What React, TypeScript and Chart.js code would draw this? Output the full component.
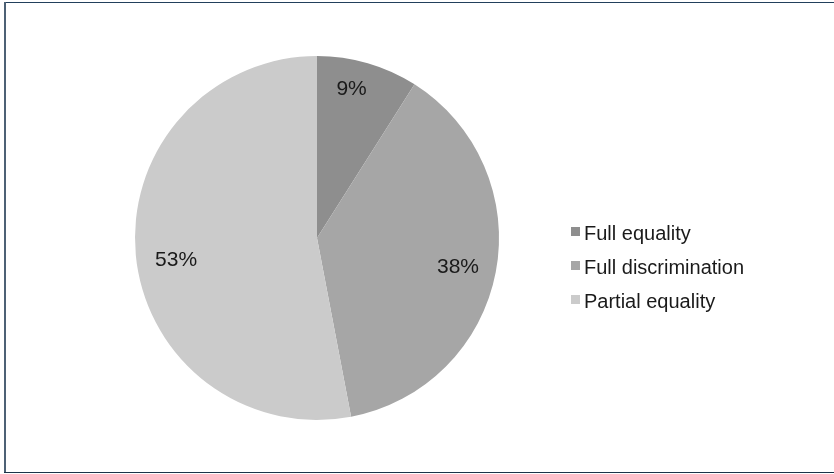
import React, { useEffect, useRef } from "react";
import { Chart, registerables } from "chart.js";

Chart.register(...registerables);

const categories = ["Full equality", "Full discrimination", "Partial equality"];
const shares = [9, 38, 53];

const sliceColors = ["#8e8e8e", "#a6a6a6", "#cbcbcb"];
const labelRadiusFraction = 0.8;
const labelNudges = [
  [-6, -9],
  [-2, 2],
  [4, 9],
];

const FONT = '"Liberation Sans", Arial, Helvetica, sans-serif';

const pieLabels = {
  id: "pieLabels",
  afterDatasetsDraw(chart: any) {
    const ctx = chart.ctx;
    const meta = chart.getDatasetMeta(0);
    ctx.save();
    ctx.font = `21px ${FONT}`;
    ctx.fillStyle = "#1a1a1a";
    ctx.textAlign = "center";
    ctx.textBaseline = "middle";
    meta.data.forEach((arc: any, i: number) => {
      const p = arc.getProps(["x", "y", "startAngle", "endAngle", "outerRadius"], true);
      const mid = (p.startAngle + p.endAngle) / 2;
      const r = p.outerRadius * labelRadiusFraction;
      const lx = p.x + Math.cos(mid) * r + labelNudges[i][0];
      const ly = p.y + Math.sin(mid) * r + labelNudges[i][1];
      ctx.fillText(`${shares[i]}%`, lx, ly);
    });
    ctx.restore();
  },
};

const sideLegend = {
  id: "sideLegend",
  afterDraw(chart: any) {
    const ctx = chart.ctx;
    const left = 571;
    const firstBaseline = 240;
    const rowGap = 34;
    const box = 9;
    ctx.save();
    ctx.font = `20px ${FONT}`;
    ctx.textAlign = "left";
    ctx.textBaseline = "alphabetic";
    categories.forEach((name, i) => {
      const base = firstBaseline + i * rowGap;
      ctx.fillStyle = sliceColors[i];
      ctx.fillRect(left, base - 13, box, box);
      ctx.fillStyle = "#1a1a1a";
      ctx.fillText(name, left + 13, base);
    });
    ctx.restore();
  },
};

export default function App() {
  const canvasRef = useRef<HTMLCanvasElement | null>(null);

  useEffect(() => {
    if (!canvasRef.current) return;
    const chart = new Chart(canvasRef.current, {
      type: "pie",
      data: {
        labels: categories,
        datasets: [
          {
            data: shares,
            backgroundColor: sliceColors,
            borderWidth: 0,
          },
        ],
      },
      options: {
        responsive: false,
        animation: false,
        devicePixelRatio: 1,
        layout: { padding: { left: 135, right: 335, top: 56, bottom: 54 } },
        plugins: {
          legend: { display: false },
          tooltip: { enabled: false },
        },
      },
      plugins: [pieLabels, sideLegend],
    });
    return () => chart.destroy();
  }, []);

  return (
    <div style={{ position: "fixed", left: 0, top: 0, width: 834, height: 474, background: "#ffffff" }}>
      <canvas ref={canvasRef} width={834} height={474} style={{ position: "absolute", left: 0, top: 0 }} />
      <div style={{ position: "absolute", left: 4, top: 2, width: 830, height: 1, background: "#22405c" }} />
      <div style={{ position: "absolute", left: 4, top: 2, width: 2, height: 471, background: "#4d6175" }} />
      <div style={{ position: "absolute", left: 4, top: 472, width: 830, height: 1, background: "#1c3349" }} />
    </div>
  );
}
